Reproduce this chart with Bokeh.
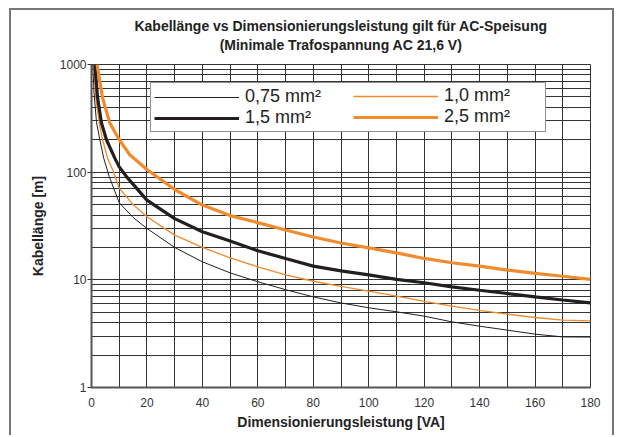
from bokeh.plotting import figure
from bokeh.models import (Range1d, FixedTicker, NumeralTickFormatter, Legend, LegendItem, Title)
from bokeh.embed import file_html
from bokeh.resources import INLINE

# ---- data ----
p075_x = [0.5, 0.9, 1.8, 3, 4.4, 6.4, 10, 15, 20, 30, 40, 50, 60, 70, 80, 90, 100, 110, 120, 130, 140, 150, 160, 170, 180]
p075_y = [1000, 550, 290, 200, 135, 91, 52, 38, 30, 20, 14.7, 11.6, 9.6, 8.1, 6.95, 6.1, 5.5, 5.05, 4.6, 4.07, 3.71, 3.41, 3.13, 2.95, 2.94]

p10_x = [0.8, 1.55, 2.8, 4, 5.8, 8, 10, 15, 20, 30, 40, 50, 60, 70, 80, 90, 100, 110, 120, 130, 140, 150, 160, 170, 180]
p10_y = [1000, 490, 286, 200, 135, 100, 71, 50, 38.5, 26, 20, 16, 13.2, 11.1, 9.7, 8.7, 7.85, 7.06, 6.3, 5.7, 5.2, 4.8, 4.47, 4.22, 4.16]

p15_x = [1.2, 2.2, 3.6, 5.4, 8.4, 10, 12.6, 20, 30, 40, 50, 60, 70, 80, 90, 100, 110, 120, 130, 140, 150, 160, 170, 180]
p15_y = [1000, 490, 286, 200, 135, 112, 91, 55, 37, 28, 22.9, 18.6, 15.8, 13.4, 12.1, 11.1, 10.1, 9.4, 8.6, 8.0, 7.47, 6.95, 6.5, 6.1]

p25_x = [2, 4, 6.6, 10, 13.8, 20, 30, 40, 50, 60, 70, 80, 90, 100, 110, 120, 130, 140, 150, 160, 170, 180]
p25_y = [1000, 489, 286, 200, 145, 106, 69, 49.5, 39.5, 34, 29, 25, 22, 19.8, 17.8, 15.8, 14.4, 13.4, 12.3, 11.5, 10.8, 10.1]

labels = ["0,75 mm²", "1,0 mm²", "1,5 mm²", "2,5 mm²"]
title_lines = ["Kabellänge vs Dimensionierungsleistung gilt für AC-Speisung",
               "(Minimale Trafospannung AC 21,6 V)"]
x_ticks = [0, 20, 40, 60, 80, 100, 120, 140, 160, 180]
x_minor = list(range(0, 181, 10))
y_ticks = [1, 10, 100, 1000]
y_minor = [m * d for d in (1, 10, 100) for m in range(2, 10)]

ORANGE = "#F28A2E"
BLACK = "#231F20"
FONT = "Liberation Sans"

p = figure(width=605, height=427, output_backend="svg", toolbar_location=None,
           y_axis_type="log", x_range=Range1d(0, 180), y_range=Range1d(1, 1000),
           min_border_left=80, min_border_right=26, min_border_top=54, min_border_bottom=50,
           styles={"margin-left": "9px", "margin-top": "8px",
                   "border-left": "2px solid #777", "border-top": "2px solid #777",
                   "border-right": "2px solid #777"})

title_kw = dict(align="center", text_font=FONT, text_font_size="14px",
                text_font_style="bold", text_color="#222")
p.title = Title(text=title_lines[0], standoff=2, **title_kw)
# spacer between the subtitle and the plot frame
p.add_layout(Title(text=" ", text_font_size="1px", standoff=9), "above")
p.add_layout(Title(text=title_lines[1], standoff=0, **title_kw), "above")

p.outline_line_color = "#333"
p.outline_line_width = 1

# grids
p.xaxis.ticker = FixedTicker(ticks=x_ticks, minor_ticks=x_minor)
p.yaxis.ticker = FixedTicker(ticks=y_ticks, minor_ticks=y_minor)
p.yaxis.formatter = NumeralTickFormatter(format="0")
for g in (p.xgrid, p.ygrid):
    g.grid_line_color = "#333"
    g.grid_line_width = 1
    g.grid_line_alpha = 1
    g.minor_grid_line_color = "#333"
    g.minor_grid_line_width = 1

for ax in (p.xaxis, p.yaxis):
    ax.axis_line_color = "#555"
    ax.axis_line_width = 2
    ax.minor_tick_line_color = None
    ax.major_label_text_font = FONT
    ax.major_label_text_font_size = "12px"
    ax.major_label_text_color = "#333"
    ax.axis_label_text_font = FONT
    ax.axis_label_text_font_size = "14px"
    ax.axis_label_text_font_style = "bold"
    ax.axis_label_text_color = "#222"
    ax.major_tick_line_color = "#333"

p.xaxis.major_tick_out = 0
p.xaxis.major_tick_in = 0
p.xaxis.major_label_standoff = 6
p.xaxis.axis_label = "Dimensionierungsleistung [VA]"
p.xaxis.axis_label_standoff = 4

p.yaxis.major_tick_out = 4
p.yaxis.major_tick_in = 0
p.yaxis.major_label_standoff = 1
p.yaxis.axis_label = "Kabellänge [m]"
p.yaxis.axis_label_standoff = 11

r075 = p.line(p075_x, p075_y, line_color=BLACK, line_width=1)
r10 = p.line(p10_x, p10_y, line_color=ORANGE, line_width=1.3)
r15 = p.line(p15_x, p15_y, line_color=BLACK, line_width=3.2)
r25 = p.line(p25_x, p25_y, line_color=ORANGE, line_width=3.2)

common = dict(orientation="vertical", glyph_width=85, glyph_height=20, label_height=20,
              label_standoff=6, spacing=0, padding=3, margin=0,
              label_text_font=FONT, label_text_font_size="18px", label_text_color="#222")

leg1 = Legend(items=[LegendItem(label=labels[0], renderers=[r075]),
                     LegendItem(label=labels[2], renderers=[r15])],
              location=(59, 255), label_width=297,
              border_line_color="#222", border_line_width=1.5,
              background_fill_color="white", background_fill_alpha=1, **common)
leg2 = Legend(items=[LegendItem(label=labels[1], renderers=[r10]),
                     LegendItem(label=labels[3], renderers=[r25])],
              location=(262, 260), label_width=80,
              border_line_color=None, background_fill_alpha=0, **common)
p.add_layout(leg1)
p.add_layout(leg2)

open("out.html", "w").write(file_html(p, INLINE))
